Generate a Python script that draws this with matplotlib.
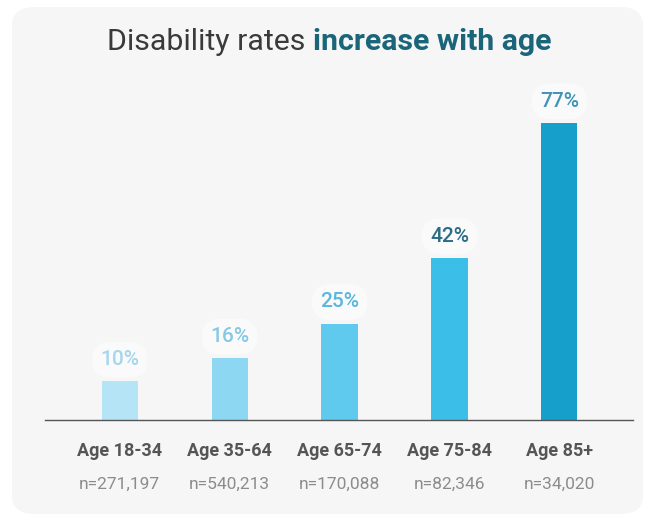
import matplotlib.pyplot as plt
from matplotlib.patches import FancyBboxPatch

groups = ['Age 18-34', 'Age 35-64', 'Age 65-74', 'Age 75-84', 'Age 85+']
sizes = ['n=271,197', 'n=540,213', 'n=170,088', 'n=82,346', 'n=34,020']
rates = [10, 16, 25, 42, 77]
bar_colors = ['#b5e4f6', '#8dd7f3', '#5fc9ee', '#3bbfe8', '#169fcb']
label_colors = ['#a6d6ee', '#86c9e6', '#58b8de', '#2b6d89', '#3f94b8']

fig = plt.figure(figsize=(6.48, 5.22), dpi=100)
fig.patch.set_facecolor('white')

# rounded grey card behind everything
card = FancyBboxPatch((12 / 648, 8 / 522), 631 / 648, 507 / 522,
                      boxstyle='round,pad=0,rounding_size=0.035',
                      transform=fig.transFigure, facecolor='#f6f6f6',
                      edgecolor='none', zorder=-10)
fig.patches.append(card)

# title in two parts
fig.text(0.483, 0.92, 'Disability rates ', ha='right', va='center',
         fontsize=21.8, color='#3a3a3a', family='Roboto')
fig.text(0.483, 0.92, 'increase with age', ha='left', va='center',
         fontsize=21.8, color='#1a6579', family='Roboto', fontweight='bold')

ax = fig.add_axes([45 / 648, 1 - 420 / 522, 588 / 648, 0.6284])
ax.set_facecolor('none')
x = range(len(groups))
ax.bar(x, rates, width=0.33, color=bar_colors, zorder=2)
ax.set_xlim(-0.68, 4.67)
ax.set_ylim(0, 85)

for i, v in enumerate(rates):
    ax.annotate(f'{v}%', (i, v), xytext=(0, 15.5), textcoords='offset points',
                ha='center', va='center', fontsize=15, fontweight='medium',
                color=label_colors[i], family='Roboto',
                bbox=dict(boxstyle='round,pad=0.4,rounding_size=0.9', facecolor='white',
                          edgecolor='none', alpha=0.55))

ax.set_yticks([])
ax.set_xticks(list(x))
ax.set_xticklabels([])
ax.tick_params(axis='x', length=0)
for side in ['top', 'right', 'left']:
    ax.spines[side].set_visible(False)
ax.spines['bottom'].set_color('#555555')
ax.spines['bottom'].set_linewidth(1.0)

for i in x:
    ax.annotate(groups[i], (i, 0), xytext=(0, -22), textcoords='offset points',
                ha='center', va='center', fontsize=13, fontweight='bold',
                color='#555555', family='Roboto')
    ax.annotate(sizes[i], (i, 0), xytext=(0, -46.5), textcoords='offset points',
                ha='center', va='center', fontsize=12.5,
                color='#8c8c8c', family='Roboto')

fig.savefig('out.png', dpi=100, facecolor='white')
